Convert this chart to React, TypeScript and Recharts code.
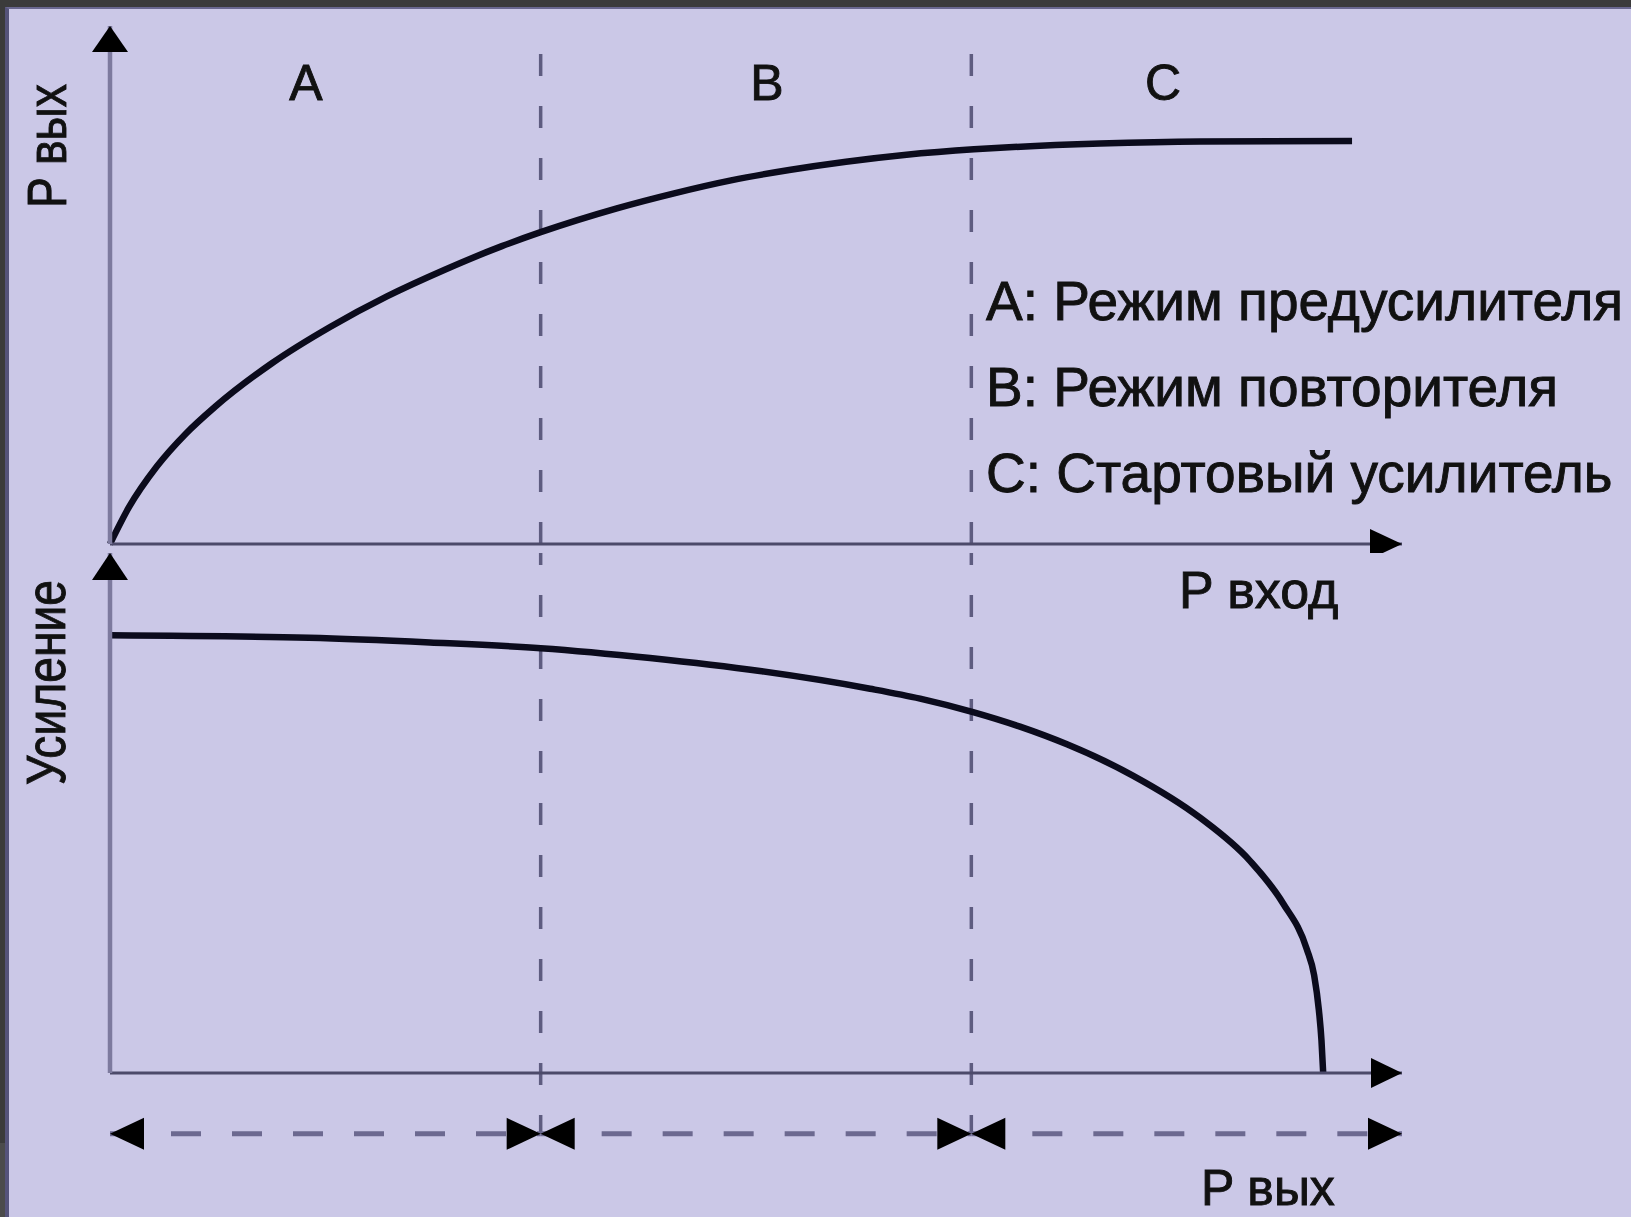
import React from 'react';
import { LineChart, Line, XAxis, YAxis, ReferenceLine, ReferenceDot } from 'recharts';

// region boundaries on the input-power axis
const boundaries = [1, 2];
const regions = [
  [0, 1],
  [1, 2],
  [2, 3],
];
const regionNames = ['A', 'B', 'C'];
const legendLines = ['A: Режим предусилителя', 'B: Режим повторителя', 'C: Стартовый усилитель'];

// upper graph: P вых vs P вход
const pinUpper = [
  0, 0.044, 0.109, 0.176, 0.244, 0.376, 0.511, 0.643, 0.776, 0.91, 1.0, 1.177, 1.31, 1.442, 1.577, 1.709, 1.844,
  2.006, 2.067, 2.299, 2.531, 2.884,
];
const poutUpper = [
  0, 0.071, 0.15, 0.213, 0.265, 0.349, 0.419, 0.478, 0.529, 0.575, 0.602, 0.648, 0.677, 0.702, 0.722, 0.738, 0.751,
  0.762, 0.765, 0.773, 0.777, 0.778,
];

// lower graph: Усиление vs P вых
const poutLower = [
  0, 0.462, 0.743, 1.0, 1.254, 1.509, 1.765, 1.881, 2.004, 2.113, 2.222, 2.375, 2.531, 2.647, 2.724, 2.779, 2.796,
  2.807, 2.813, 2.817,
];
const gainLower = [
  0.842, 0.837, 0.828, 0.817, 0.798, 0.773, 0.739, 0.72, 0.694, 0.666, 0.632, 0.572, 0.491, 0.408, 0.326, 0.238,
  0.188, 0.121, 0.063, 0,
];

// level of the range arrows under the lower graph
const RANGE_ROW = -0.117;

const upperData = pinUpper.map((x, i) => ({ x, y: poutUpper[i] }));
const lowerData = poutLower.map((x, i) => ({ x, y: gainLower[i] }));

const W = 1631;
const FONT = '"Liberation Sans", Arial, sans-serif';
const X_AXIS = '#4c4a6a';
const Y_AXIS = '#7d7a9e';
const GUIDE = '#5e5c80';
const ROW = '#6c6990';

type Dir = 'up' | 'right' | 'left';

const arrow = (dir: Dir, len: number, half: number) => (p: any) => {
  const { cx, cy } = p;
  let pts = '';
  if (dir === 'up') pts = `${cx},${cy} ${cx - half},${cy + len} ${cx + half},${cy + len}`;
  if (dir === 'right') pts = `${cx},${cy} ${cx - len},${cy - half} ${cx - len},${cy + half}`;
  if (dir === 'left') pts = `${cx},${cy} ${cx + len},${cy - half} ${cx + len},${cy + half}`;
  return <polygon points={pts} fill="#000" />;
};

const UpperChart = () => (
  <LineChart width={W} height={553} data={upperData} margin={{ top: 26, right: 229, bottom: 8, left: 109 }}>
    <XAxis
      type="number"
      dataKey="x"
      domain={[0, 3]}
      height={1}
      tick={false}
      tickLine={false}
      axisLine={{ stroke: X_AXIS, strokeWidth: 3 }}
    />
    <YAxis
      type="number"
      domain={[0, 1]}
      width={1}
      tick={false}
      tickLine={false}
      axisLine={{ stroke: Y_AXIS, strokeWidth: 4.5 }}
    />
    {boundaries.map((b) => (
      <ReferenceLine key={b} x={b} stroke={GUIDE} strokeWidth={3.5} strokeDasharray="22 30" />
    ))}
    <Line
      type="monotone"
      dataKey="y"
      stroke="#0b0b1c"
      strokeWidth={6.5}
      dot={false}
      isAnimationActive={false}
    />
    <ReferenceDot x={3} y={0} r={0} shape={arrow('right', 32, 15)} />
    <ReferenceDot x={0} y={1} r={0} shape={arrow('up', 26, 18)} ifOverflow="visible" />
  </LineChart>
);

const LowerChart = () => (
  <LineChart width={W} height={664} data={lowerData} margin={{ top: 0, right: 229, bottom: 143, left: 109 }}>
    <XAxis
      type="number"
      dataKey="x"
      domain={[0, 3]}
      height={1}
      tick={false}
      tickLine={false}
      axisLine={{ stroke: X_AXIS, strokeWidth: 3 }}
    />
    <YAxis
      type="number"
      domain={[0, 1]}
      width={1}
      tick={false}
      tickLine={false}
      axisLine={{ stroke: Y_AXIS, strokeWidth: 4.5 }}
    />
    {boundaries.map((b) => (
      <ReferenceLine
        key={b}
        segment={[
          { x: b, y: 1 },
          { x: b, y: RANGE_ROW },
        ]}
        ifOverflow="visible"
        stroke={GUIDE}
        strokeWidth={3.5}
        strokeDasharray="22 30"
        strokeDashoffset={10}
      />
    ))}
    {regions.map(([a, b]) => (
      <ReferenceLine
        key={`row-${a}`}
        segment={[
          { x: a, y: RANGE_ROW },
          { x: b, y: RANGE_ROW },
        ]}
        ifOverflow="visible"
        stroke={ROW}
        strokeWidth={5}
        strokeDasharray="30 31"
      />
    ))}
    {regions.map(([a]) => (
      <ReferenceDot key={`l-${a}`} x={a} y={RANGE_ROW} r={0} ifOverflow="visible" shape={arrow('left', 34, 16)} />
    ))}
    {regions.map(([, b]) => (
      <ReferenceDot key={`r-${b}`} x={b} y={RANGE_ROW} r={0} ifOverflow="visible" shape={arrow('right', 34, 16)} />
    ))}
    <Line
      type="monotone"
      dataKey="y"
      stroke="#0b0b1c"
      strokeWidth={6.5}
      dot={false}
      isAnimationActive={false}
    />
    <ReferenceDot x={3} y={0} r={0} shape={arrow('right', 31, 15)} />
    <ReferenceDot x={0} y={1} r={0} shape={arrow('up', 27, 18)} ifOverflow="visible" />
  </LineChart>
);

const Annotations = () => (
  <svg width={W} height={1217} style={{ position: 'absolute', left: 0, top: 0, pointerEvents: 'none' }}>
    <g fontFamily={FONT} fill="#111" stroke="#111" strokeWidth={0.9}>
      {regionNames.map((n, i) => (
        <text key={n} x={[306, 767, 1163][i]} y={100} fontSize={50} textAnchor="middle">
          {n}
        </text>
      ))}
      {legendLines.map((t, i) => (
        <text key={t} x={986} y={[320, 406, 492][i]} fontSize={55}>
          {t}
        </text>
      ))}
      <text x={1179} y={608} fontSize={52}>
        P вход
      </text>
      <text x={1201} y={1205} fontSize={50}>
        P вых
      </text>
      <text
        transform="translate(66,208) rotate(-90)"
        fontSize={56}
        textLength={124}
        lengthAdjust="spacingAndGlyphs"
      >
        P вых
      </text>
      <text
        transform="translate(65,785) rotate(-90)"
        fontSize={56}
        textLength={205}
        lengthAdjust="spacingAndGlyphs"
      >
        Усиление
      </text>
    </g>
  </svg>
);

export default function App() {
  return (
    <div style={{ position: 'absolute', left: 0, top: 0, width: W, height: 1217, background: '#3b3b3b', overflow: 'hidden' }}>
      <div style={{ position: 'absolute', left: 0, top: 1143, width: 5, height: 74, background: '#4b4b4b' }} />
      <div
        style={{
          position: 'absolute',
          left: 5,
          top: 7,
          right: 0,
          bottom: 0,
          background: '#cbc8e7',
          borderLeft: '4px solid #55537a',
          borderTop: '2px solid #6a6890',
        }}
      />
      <div style={{ position: 'absolute', left: 0, top: 0 }}>
        <UpperChart />
      </div>
      <div style={{ position: 'absolute', left: 0, top: 553 }}>
        <LowerChart />
      </div>
      <Annotations />
    </div>
  );
}
